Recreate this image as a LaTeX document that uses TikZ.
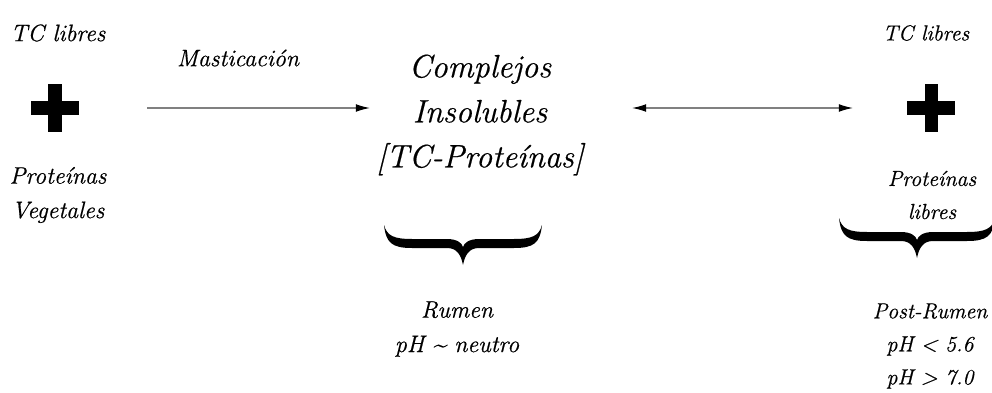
\documentclass[tikz,border=0pt]{standalone}
\usepackage{fontspec}
\setmainfont{Latin Modern Roman}[ItalicFeatures={FakeBold=0.6}]
\usetikzlibrary{arrows.meta}

% llave horizontal abierta hacia arriba: borde superior en (#1,#2), media anchura #3
\newcommand{\llave}[3]{%
  \fill[shift={(#1,#2)}] (-#3,0) .. controls (-#3+2,18) and (-#3+8,23) .. (-#3+28,23)
    -- (-16,23) .. controls (-6,23) and (-2,30) .. (0,40)
    .. controls (2,30) and (6,23) .. (16,23)
    -- (#3-28,23) .. controls (#3-8,23) and (#3-2,18) .. (#3,0)
    .. controls (#3-3,11) and (#3-10,14) .. (#3-28,14)
    -- (16,14) .. controls (6,14) and (1,18) .. (0,22)
    .. controls (-1,18) and (-6,14) .. (-16,14)
    -- (-#3+28,14) .. controls (-#3+10,14) and (-#3+3,11) .. (-#3,0) -- cycle;}

\tikzset{
  etiqueta/.style={align=center, inner sep=0pt, font=\fontsize{17}{24.5}\selectfont\itshape},
  etiquetab/.style={etiqueta, font=\fontsize{15.5}{23.5}\selectfont\itshape},
  titulo/.style={align=center, inner sep=0pt, font=\fontsize{23}{32}\selectfont\itshape},
  flecha/.style={draw=gray, line width=0.9pt},
  cruz/.style={minimum size=1.2cm, inner sep=0pt, path picture={
      \fill ([yshift=-0.1625cm]path picture bounding box.west) rectangle ([yshift=0.1625cm]path picture bounding box.east);
      \fill ([xshift=-0.1625cm]path picture bounding box.south) rectangle ([xshift=0.1625cm]path picture bounding box.north);}}
}

\begin{document}
\begin{tikzpicture}[x=0.025cm, y=-0.025cm, >={Latex[length=10pt,width=5.5pt,color=black]}]
    \useasboundingbox (0,0) rectangle (992,393);
    % reactivos
    \node[etiqueta] (tcA) at (58,33) {TC libres};
    \node[cruz] (masA) at (55,108) {};
    \node[etiqueta] (protA) at (58,195) {Proteínas\\Vegetales};
    % complejo central
    \node[etiqueta] (mastic) at (238,58) {Masticación};
    \node[titulo] (complejo) at (480,115) {Complejos\\Insolubles\\{[TC-Proteínas]}};
    \node[etiqueta] (rumen) at (457,329) {Rumen\\pH \textasciitilde{} neutro};
    % productos
    \node[etiquetab] (tcB) at (926,33) {TC libres};
    \node[cruz] (masB) at (931,108) {};
    \node[etiquetab] (protB) at (932,195) {Proteínas\\libres};
    \node[etiquetab] (postrumen) at (930,346) {Post-Rumen\\pH < 5.6\\pH > 7.0};
    % flechas
    \coordinate (m1) at (147,108); \coordinate (m2) at (370,108);
    \coordinate (e1) at (632,108); \coordinate (e2) at (853,108);
    \draw[flecha,->] (m1) -- (m2);
    \draw[flecha,<->] (e1) -- (e2);
    % llaves
    \llave{463}{225}{79}
    \llave{917}{218}{78}
\end{tikzpicture}
\end{document}
